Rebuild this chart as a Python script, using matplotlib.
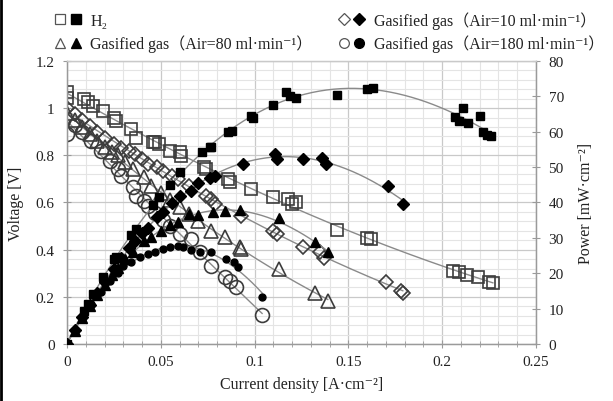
import numpy as np
import matplotlib
matplotlib.use("Agg")
import matplotlib.pyplot as plt
from matplotlib.ticker import MultipleLocator, FuncFormatter
from matplotlib.legend_handler import HandlerTuple
from matplotlib.lines import Line2D

plt.rcParams['font.family'] = ['Liberation Serif', 'Noto Sans CJK JP', 'DejaVu Serif']

# ---------------- data ----------------
# H2
i_h2_v = [0, 0, 0.009, 0.011, 0.014, 0.019, 0.025, 0.026, 0.034, 0.037, 0.046, 0.047,
          0.049, 0.055, 0.060, 0.061, 0.073, 0.074, 0.086, 0.087, 0.098, 0.110, 0.118,
          0.120, 0.122, 0.144, 0.160, 0.162, 0.206, 0.209, 0.213, 0.219, 0.225, 0.227]
v_h2 = [1.07, 1.045, 1.04, 1.024, 1.01, 0.99, 0.96, 0.946, 0.91, 0.875, 0.855, 0.855,
        0.847, 0.819, 0.812, 0.798, 0.749, 0.742, 0.699, 0.685, 0.657, 0.622, 0.614,
        0.593, 0.60, 0.484, 0.448, 0.445, 0.31, 0.305, 0.292, 0.284, 0.263, 0.258]
i_h2_p = [0, 0.009, 0.011, 0.014, 0.019, 0.025, 0.026, 0.034, 0.037, 0.046, 0.049, 0.055,
          0.060, 0.072, 0.076, 0.077, 0.086, 0.088, 0.098, 0.099, 0.110, 0.117, 0.119,
          0.122, 0.144, 0.160, 0.163, 0.207, 0.209, 0.211, 0.214, 0.220, 0.222, 0.224, 0.226]
p_h2 = [0, 9.4, 11.3, 14.1, 18.8, 24.0, 24.6, 30.9, 32.4, 39.3, 41.5, 45.0,
        48.7, 54.2, 55.8, 55.6, 59.8, 60.3, 64.5, 63.8, 67.5, 71.1, 70.0,
        69.4, 70.5, 72.2, 72.4, 64.3, 63.0, 66.6, 62.6, 64.5, 59.8, 59.0, 58.7]

# Gasified gas, Air = 10 ml/min
i_a10_v = [0, 0.004, 0.008, 0.012, 0.016, 0.020, 0.025, 0.029, 0.033, 0.036, 0.040,
           0.043, 0.048, 0.051, 0.056, 0.059, 0.065, 0.074, 0.077, 0.079, 0.093, 0.110,
           0.112, 0.126, 0.135, 0.137, 0.170, 0.178, 0.179]
v_a10 = [1.00, 0.975, 0.95, 0.925, 0.90, 0.875, 0.85, 0.833, 0.819, 0.805, 0.784,
         0.763, 0.749, 0.734, 0.713, 0.70, 0.67, 0.628, 0.614, 0.593, 0.544, 0.48,
         0.466, 0.41, 0.39, 0.364, 0.264, 0.226, 0.216]
i_a10_p = [0, 0.004, 0.008, 0.012, 0.016, 0.020, 0.025, 0.029, 0.033, 0.036, 0.040,
           0.043, 0.048, 0.051, 0.056, 0.060, 0.066, 0.070, 0.076, 0.079, 0.094, 0.111,
           0.112, 0.126, 0.136, 0.138, 0.171, 0.179]
p_a10 = [0, 3.9, 7.6, 11.1, 14.4, 17.5, 21.3, 24.2, 27.0, 29.0, 31.4,
         32.8, 36.0, 37.4, 39.9, 41.7, 43.3, 45.5, 46.8, 47.5, 50.8, 53.7,
         52.3, 52.3, 52.7, 50.8, 44.7, 39.5]

# Gasified gas, Air = 80 ml/min
i_a80_v = [0, 0.004, 0.008, 0.012, 0.016, 0.020, 0.024, 0.027, 0.031, 0.035, 0.041,
           0.045, 0.050, 0.055, 0.060, 0.065, 0.070, 0.077, 0.084, 0.092, 0.093, 0.113,
           0.132, 0.139]
v_a80 = [0.98, 0.95, 0.92, 0.89, 0.86, 0.835, 0.815, 0.80, 0.77, 0.74, 0.71,
         0.67, 0.64, 0.61, 0.58, 0.55, 0.52, 0.48, 0.452, 0.41, 0.403, 0.318,
         0.216, 0.183]
i_a80_p = [0, 0.004, 0.008, 0.012, 0.016, 0.020, 0.024, 0.027, 0.031, 0.035, 0.041,
           0.045, 0.050, 0.055, 0.059, 0.065, 0.070, 0.078, 0.084, 0.092, 0.113, 0.132,
           0.139]
p_a80 = [0, 3.8, 7.4, 10.7, 13.8, 16.7, 19.6, 21.6, 23.9, 25.9, 29.1,
         30.2, 32.0, 33.6, 34.4, 36.7, 36.4, 37.2, 37.7, 37.8, 35.5, 28.9,
         25.9]

# Gasified gas, Air = 180 ml/min
i_a180_v = [0, 0.004, 0.008, 0.013, 0.018, 0.023, 0.027, 0.029, 0.035, 0.037, 0.041,
            0.043, 0.047, 0.051, 0.055, 0.060, 0.066, 0.071, 0.077, 0.084, 0.087,
            0.090, 0.104]
v_a180 = [0.89, 0.93, 0.90, 0.861, 0.819, 0.777, 0.742, 0.713, 0.664, 0.628, 0.607,
          0.586, 0.555, 0.525, 0.50, 0.466, 0.445, 0.389, 0.332, 0.283, 0.268,
          0.24, 0.123]
i_a180_p = [0, 0.004, 0.008, 0.013, 0.018, 0.023, 0.027, 0.030, 0.034, 0.039, 0.043,
            0.047, 0.051, 0.055, 0.059, 0.062, 0.066, 0.071, 0.077, 0.085, 0.089,
            0.091, 0.104]
p_a180 = [0, 3.7, 7.2, 11.2, 14.7, 17.9, 20.0, 22.1, 23.3, 24.5, 25.4,
          26.1, 26.8, 27.3, 27.8, 27.3, 26.5, 25.9, 25.9, 24.0, 23.1,
          21.7, 13.2]

legend_labels = ['H\u2082',
                 'Gasified gas\uff08Air=80 ml\u00b7min\u207b\u00b9\uff09',
                 'Gasified gas\uff08Air=10 ml\u00b7min\u207b\u00b9\uff09',
                 'Gasified gas\uff08Air=180 ml\u00b7min\u207b\u00b9\uff09']

# ---------------- figure ----------------
fig = plt.figure(figsize=(6.13, 4.02), dpi=100)
ax = fig.add_axes([0.1093, 0.1418, 0.7651, 0.704])
ax2 = ax.twinx()

ax.set_xlim(0, 0.25)
ax.set_ylim(0, 1.2)
ax2.set_ylim(0, 80)

ax.xaxis.set_major_locator(MultipleLocator(0.05))
ax.xaxis.set_minor_locator(MultipleLocator(0.01))
ax.yaxis.set_major_locator(MultipleLocator(0.2))
ax.yaxis.set_minor_locator(MultipleLocator(0.04))
ax2.yaxis.set_major_locator(MultipleLocator(10))

fmt = FuncFormatter(lambda v, p: '%g' % round(v, 4))
ax.xaxis.set_major_formatter(fmt)
ax.yaxis.set_major_formatter(fmt)
ax2.yaxis.set_major_formatter(fmt)

ax.set_axisbelow(True)
ax.grid(which='major', color='#c9c9c9', lw=0.9)
ax.grid(which='minor', color='#e4e4e4', lw=0.8)

for a in (ax, ax2):
    for s in a.spines.values():
        s.set_color('#9a9a9a')
        s.set_linewidth(0.9)
    a.spines['top'].set_color('#c9c9c9')

ax.tick_params(axis='x', which='major', direction='inout', length=6, color='#9a9a9a',
               labelsize=11, labelcolor='#222222', pad=5)
ax.tick_params(axis='x', which='minor', direction='inout', length=4, color='#9a9a9a')
ax.tick_params(axis='y', which='major', direction='inout', length=6, color='#9a9a9a',
               labelsize=11, labelcolor='#222222', pad=6)
ax.tick_params(axis='y', which='minor', length=0)
ax2.tick_params(axis='y', which='major', direction='inout', length=6, color='#9a9a9a',
                labelsize=11, labelcolor='#222222', pad=6)

trend_kw = dict(color='#8a8a8a', lw=1.0, zorder=2)


def trend(a, x, y, deg):
    c = np.polyfit(x, y, deg)
    xs = np.linspace(min(x), max(x), 300)
    a.plot(xs, np.polyval(c, xs), **trend_kw)


open_kw = dict(ls='none', mfc='none', mec='#3c3c3c', mew=1.2, zorder=3)
fill_kw = dict(ls='none', mfc='black', mec='black', zorder=4)

# voltage (open markers)
trend(ax, i_h2_v, v_h2, 2)
trend(ax, i_a10_v, v_a10, 2)
trend(ax, i_a80_v, v_a80, 2)
trend(ax, i_a180_v, v_a180, 2)
ax.plot(i_h2_v, v_h2, marker='s', ms=9, **open_kw)
ax.plot(i_a10_v, v_a10, marker='D', ms=7, **open_kw)
ax.plot(i_a80_v, v_a80, marker='^', ms=10, **open_kw)
ax.plot(i_a180_v, v_a180, marker='o', ms=10, **open_kw)

# power (filled markers)
trend(ax2, i_h2_p, p_h2, 3)
trend(ax2, i_a10_p, p_a10, 3)
trend(ax2, i_a80_p, p_a80, 3)
trend(ax2, i_a180_p, p_a180, 3)
ax2.plot(i_h2_p, p_h2, marker='s', ms=6, **fill_kw)
ax2.plot(i_a10_p, p_a10, marker='D', ms=6, **fill_kw)
ax2.plot(i_a80_p, p_a80, marker='^', ms=7.5, **fill_kw)
ax2.plot(i_a180_p, p_a180, marker='o', ms=5, **fill_kw)

ax.set_xlabel('Current density [A\u00b7cm\u207b\u00b2]', fontsize=11.5, color='#222222', labelpad=6)
ax.set_ylabel('Voltage [V]', fontsize=11.5, color='#222222', labelpad=8)
ax2.set_ylabel('Power [mW\u00b7cm\u207b\u00b2]', fontsize=11.5, color='#222222',
               rotation=90, labelpad=10)

# legend: open (voltage) + filled (power) marker pairs
lg_open = dict(ls='none', mfc='none', mec='#555555', mew=0.9, ms=7)
lg_fill = dict(ls='none', mfc='black', mec='black', ms=7)
handles = [
    (Line2D([], [], marker='s', **lg_open), Line2D([], [], marker='s', **lg_fill)),
    (Line2D([], [], marker='^', **lg_open), Line2D([], [], marker='^', **lg_fill)),
    (Line2D([], [], marker='D', **{**lg_open, 'ms': 6}), Line2D([], [], marker='D', **{**lg_fill, 'ms': 6})),
    (Line2D([], [], marker='o', **lg_open), Line2D([], [], marker='o', **lg_fill)),
]
fig.legend(handles, legend_labels, ncol=2, loc='upper left',
           bbox_to_anchor=(0.065, 1.005), frameon=False, fontsize=11.5,
           handler_map={tuple: HandlerTuple(ndivide=None, pad=0.25)},
           handlelength=1.7, handletextpad=0.55, columnspacing=1.6,
           labelspacing=0.35, labelcolor='#222222')

# left border of the figure
fig.add_artist(Line2D([0.0016, 0.0016], [0, 1], transform=fig.transFigure,
                      color='black', lw=2))

fig.savefig('out.png', dpi=100)
